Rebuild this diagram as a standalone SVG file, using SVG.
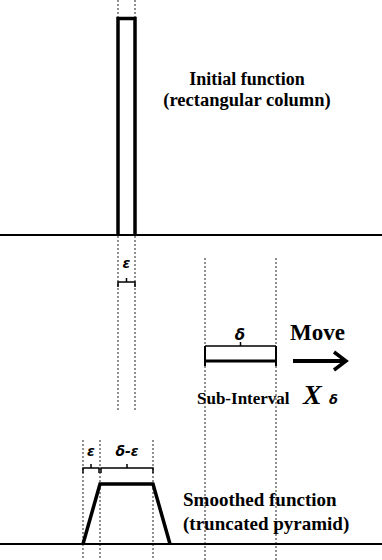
<svg xmlns="http://www.w3.org/2000/svg" width="382" height="560" viewBox="0 0 382 560">
<style>
.dash{stroke:#555;stroke-width:1.3;stroke-dasharray:2 2;fill:none}
.base{stroke:#000;stroke-width:2;fill:none}
.thick{stroke:#000;stroke-width:3.5;fill:none;stroke-linejoin:miter}
.brace{stroke:#000;stroke-width:1.5;fill:none}
.lbl{font-family:"Liberation Serif",serif;font-weight:bold;fill:#000}
.greek{font-family:"DejaVu Sans","Liberation Sans",sans-serif;font-style:italic;font-weight:bold;fill:#000}
</style>
<rect width="382" height="560" fill="#fff"/>
<g id="connectors">
  <line class="dash" x1="118" y1="0" x2="118" y2="412"/>
  <line class="dash" x1="135" y1="0" x2="135" y2="412"/>
  <line class="dash" x1="205" y1="258" x2="205" y2="560"/>
  <line class="dash" x1="276" y1="258" x2="276" y2="560"/>
  <line class="dash" x1="83" y1="440" x2="83" y2="560"/>
  <line class="dash" x1="100" y1="440" x2="100" y2="560"/>
  <line class="dash" x1="153" y1="440" x2="153" y2="560"/>
  <line class="base" x1="0" y1="235" x2="382" y2="235"/>
  <line class="base" x1="0" y1="544" x2="382" y2="544"/>
</g>
<g id="initial-function">
  <path class="thick" d="M118,235 V18.5 H135 V235"/>
  <text class="lbl" x="247" y="85" font-size="18" text-anchor="middle">Initial function</text>
  <text class="lbl" x="247" y="106" font-size="18.5" text-anchor="middle">(rectangular column)</text>
</g>
<g id="epsilon-top">
  <text class="greek" x="126.5" y="268" font-size="14" text-anchor="middle">ε</text>
  <path class="brace" d="M118,287 V282 H135 V287 M126.5,282 V278"/>
</g>
<g id="sub-interval">
  <text class="greek" x="240" y="340" font-size="15" text-anchor="middle">δ</text>
  <path class="brace" d="M205,346 H276 M240.5,346 V342"/>
  <path stroke="#000" stroke-width="2" fill="none" d="M205,346 V366 M276,346 V366"/>
  <line stroke="#000" stroke-width="3" x1="205" y1="361" x2="276" y2="361"/>
  <text class="lbl" x="197" y="404" font-size="17">Sub-Interval</text>
  <text x="303" y="404" font-family="Liberation Serif,serif" font-style="italic" font-weight="bold" font-size="28">X</text>
  <text class="greek" x="329" y="404" font-size="13">δ</text>
</g>
<g id="move">
  <text class="lbl" x="290" y="340" font-size="23">Move</text>
  <line stroke="#000" stroke-width="4" x1="293" y1="361" x2="344" y2="361"/>
  <path stroke="#000" stroke-width="3.5" fill="none" d="M334,352 L346,361 L334,370"/>
</g>
<g id="smoothed-function">
  <path class="thick" d="M83,544 L100,484 H153 L170,544"/>
  <text class="greek" x="91" y="456" font-size="14" text-anchor="middle">ε</text>
  <text class="greek" x="127" y="456" font-size="14" text-anchor="middle">δ-ε</text>
  <path class="brace" d="M83,473 V468 H99 V473 M91,468 V464"/>
  <path class="brace" d="M101,473 V468 H153 V473 M127,468 V464"/>
  <text class="lbl" x="183" y="506" font-size="19">Smoothed function</text>
  <text class="lbl" x="183" y="530" font-size="19">(truncated pyramid)</text>
</g>
</svg>
